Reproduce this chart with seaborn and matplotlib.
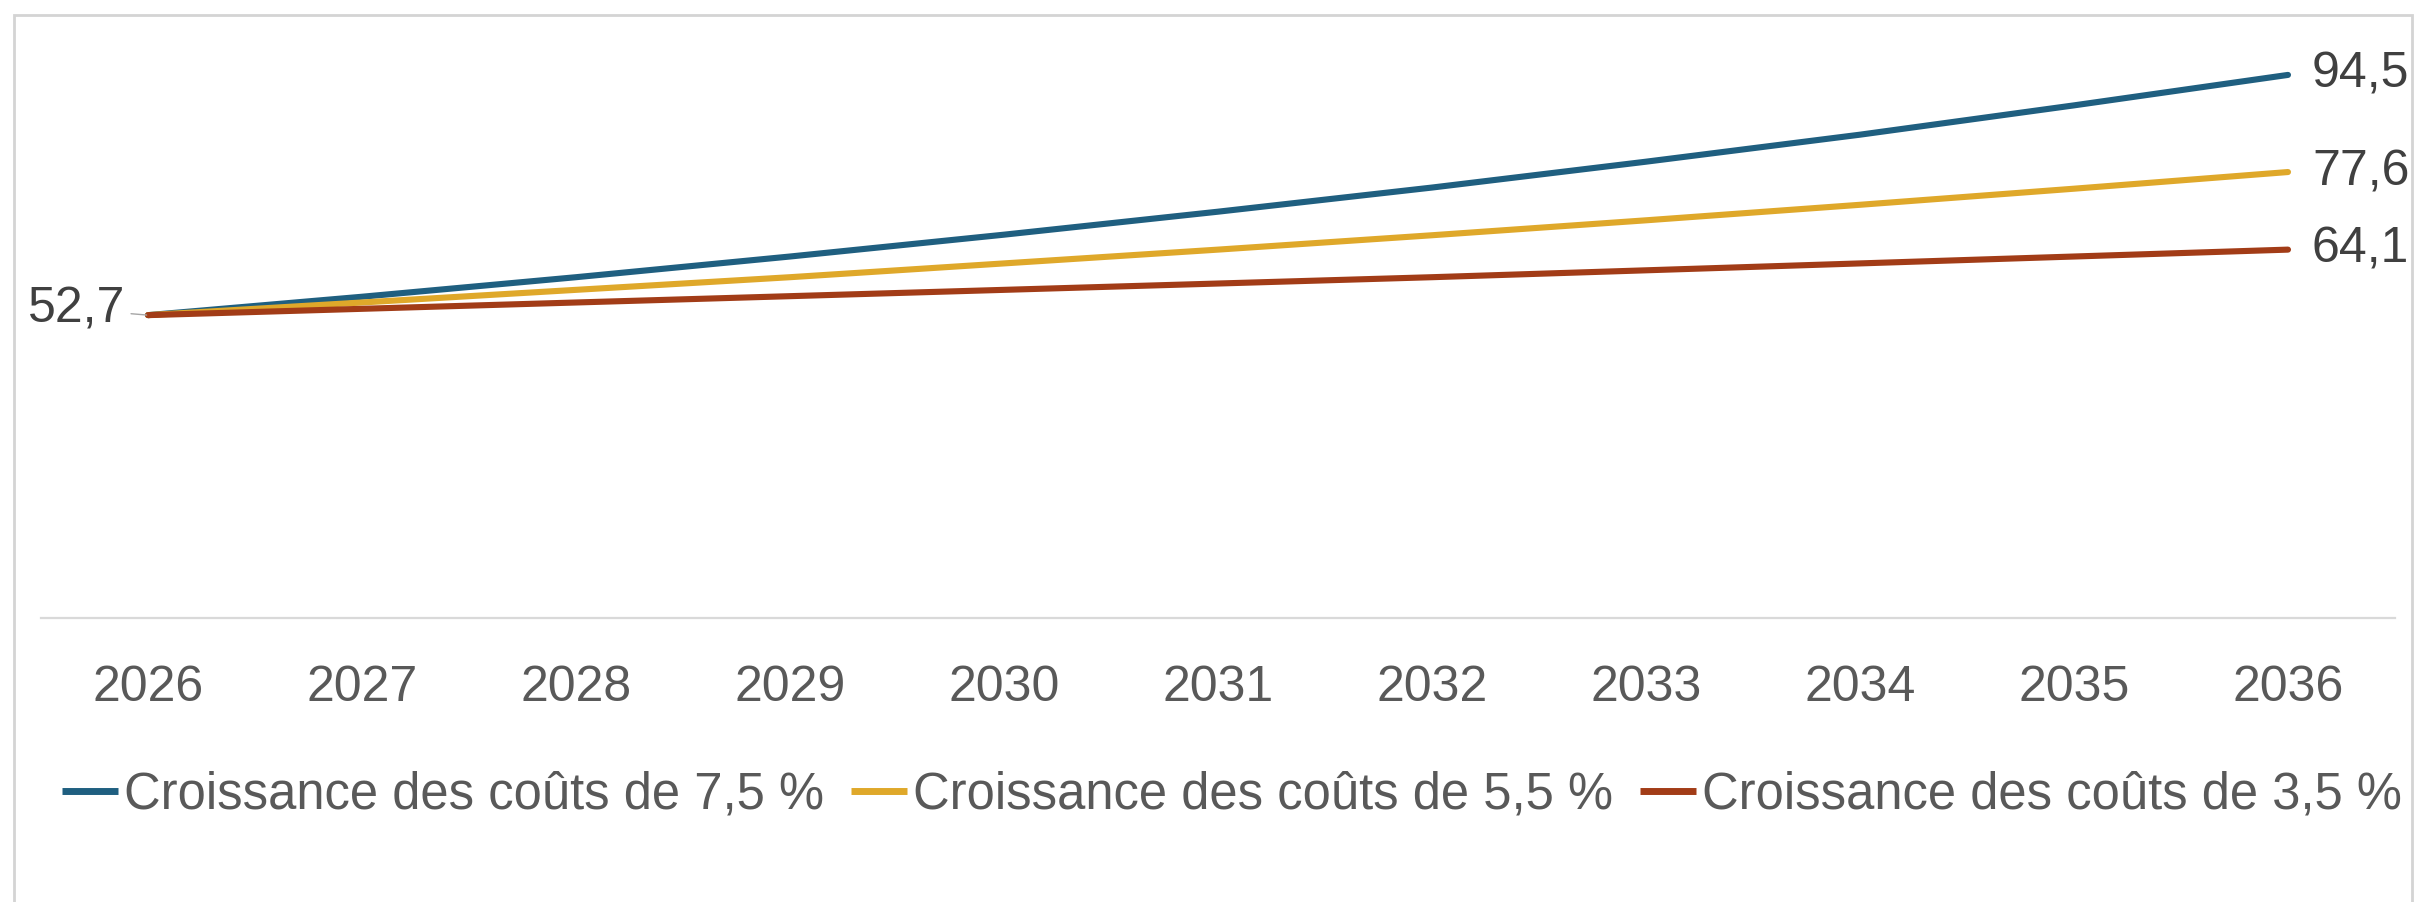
import matplotlib
matplotlib.use("Agg")
import matplotlib.pyplot as plt
import seaborn as sns
import pandas as pd
from matplotlib.patches import Rectangle
from matplotlib.lines import Line2D

# Projected cost values by year for three growth scenarios
years = [2026, 2027, 2028, 2029, 2030, 2031, 2032, 2033, 2034, 2035, 2036]
series_names = [
    "Croissance des coûts de 7,5 %",
    "Croissance des coûts de 5,5 %",
    "Croissance des coûts de 3,5 %",
]
growth_75 = [52.7, 55.9, 59.3, 62.9, 66.7, 70.7, 74.9, 79.4, 84.1, 89.2, 94.5]
growth_55 = [52.7, 54.9, 57.1, 59.3, 61.7, 64.1, 66.6, 69.2, 71.9, 74.7, 77.6]
growth_35 = [52.7, 53.8, 54.9, 56.0, 57.1, 58.2, 59.3, 60.5, 61.7, 62.9, 64.1]
colors = ["#1f5f80", "#dfa82a", "#a23c17"]

df = pd.concat(
    [
        pd.DataFrame({"year": years, "value": vals, "scenario": name})
        for name, vals in zip(series_names, [growth_75, growth_55, growth_35])
    ],
    ignore_index=True,
)

sns.set_theme(style="white")
plt.rcParams["font.family"] = ["Liberation Sans", "DejaVu Sans"]

W, H = 2422, 902
fig = plt.figure(figsize=(W / 100, H / 100), dpi=100)
fig.patch.set_facecolor("white")

# Light grey frame around the chart area
fig.patches.append(
    Rectangle((14 / W, -0.05), (2412 - 14) / W, 1.05 - 15 / H,
              transform=fig.transFigure, fill=False,
              edgecolor="#d4d4d4", linewidth=2.0)
)

ax = fig.add_axes([41 / W, 1 - 618 / H, (2395 - 41) / W, (618 - 43.3) / H])

sns.lineplot(
    data=df, x="year", y="value", hue="scenario",
    hue_order=series_names, palette=colors,
    linewidth=4.4, ax=ax, legend=False,
    solid_capstyle="round",
)

ax.set_xlim(years[0] - 0.5, years[-1] + 0.5)
ax.set_ylim(0, 100)
ax.set_xticks(years)
ax.set_xticklabels([str(y) for y in years])
ax.set_yticks([])
ax.set_xlabel("")
ax.set_ylabel("")
ax.tick_params(axis="x", length=0, pad=34, labelsize=36, labelcolor="#595959")
for side in ["left", "right", "top"]:
    ax.spines[side].set_visible(False)
ax.spines["bottom"].set_color("#d9d9d9")
ax.spines["bottom"].set_linewidth(1.6)

label_color = "#404040"
# Starting value on the left, with a short leader line
ax.annotate(
    f"{growth_75[0]:.1f}".replace(".", ","),
    xy=(years[0], growth_75[0]), xytext=(-23, 6), textcoords="offset pixels",
    ha="right", va="center", fontsize=36, color=label_color,
    arrowprops=dict(arrowstyle="-", color="#a6a6a6", lw=1.0,
                    shrinkA=2, shrinkB=1),
)
# End values on the right
for vals in [growth_75, growth_55, growth_35]:
    ax.annotate(
        f"{vals[-1]:.1f}".replace(".", ","),
        xy=(years[-1], vals[-1]), xytext=(24, 0), textcoords="offset pixels",
        ha="left", va="center", fontsize=36, color=label_color,
        annotation_clip=False,
    )

handles = [Line2D([], [], color=c, linewidth=5.0, solid_capstyle="butt")
           for c in colors]
fig.legend(
    handles, series_names, loc="center",
    bbox_to_anchor=(1232 / W, 1 - 795 / H), ncol=3, frameon=False,
    fontsize=36.5, handlelength=1.1, handletextpad=0.12,
    columnspacing=0.53, labelcolor="#595959",
    borderpad=0, borderaxespad=0,
)

fig.savefig("out.png", dpi=100, facecolor="white")
